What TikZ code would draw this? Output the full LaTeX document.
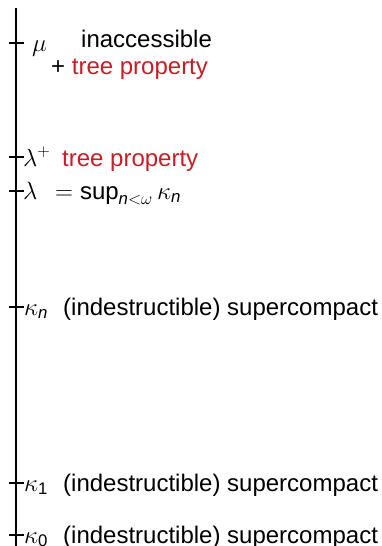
\documentclass[tikz,border=0pt]{standalone}
\usepackage{fontspec}
\setmainfont{Liberation Sans}
\definecolor{tpred}{RGB}{200,28,38}
\begin{document}
\begin{tikzpicture}[x=1pt,y=-1pt,
  lbl/.style={inner sep=0pt,anchor=base west,font=\fontsize{24}{28}\selectfont},
  tick/.style={line width=1.3pt},
  axis/.style={line width=2pt}]
\useasboundingbox (0,0) rectangle (381,546);
% vertical axis
\coordinate (top) at (16,8);
\coordinate (bot) at (16,546);
\draw[axis] (top) -- (bot);
% ticks on the axis
\foreach \n/\y in {mu/43,lp/157,la/191,kn/307,ka/483,kz/535}{
  \coordinate (\n) at (16,\y);
  \draw[tick] ([xshift=-7.5pt]\n) -- ([xshift=7.5pt]\n);
}
% mu
\node[lbl] (muL) at (32,51) {$\mu$};
\node[lbl] (muT) at (81,47) {inaccessible};
\node[lbl] (muP) at (51,74) {+ \textcolor{tpred}{tree property}};
% lambda^+
\node[lbl] (lpL) at (23,166) {$\lambda^+$};
\node[lbl] (lpT) at (62,166) {\textcolor{tpred}{tree property}};
% lambda
\node[lbl] (laL) at (23,199) {$\lambda$};
\node[lbl] (laT) at (55,199) {$=\sup_{\mathit{n}<\omega}\kappa_{\mathit{n}}$};
% kappas
\node[lbl] (knL) at (24,315) {$\kappa_{\mathit{n}}$};
\node[lbl] (knT) at (63,315) {(indestructible) supercompact};
\node[lbl] (kaL) at (24,491) {$\kappa_{\mathrm{1}}$};
\node[lbl] (kaT) at (63,491) {(indestructible) supercompact};
\node[lbl] (kzL) at (24,543) {$\kappa_{\mathrm{0}}$};
\node[lbl] (kzT) at (63,543) {(indestructible) supercompact};
\end{tikzpicture}
\end{document}
